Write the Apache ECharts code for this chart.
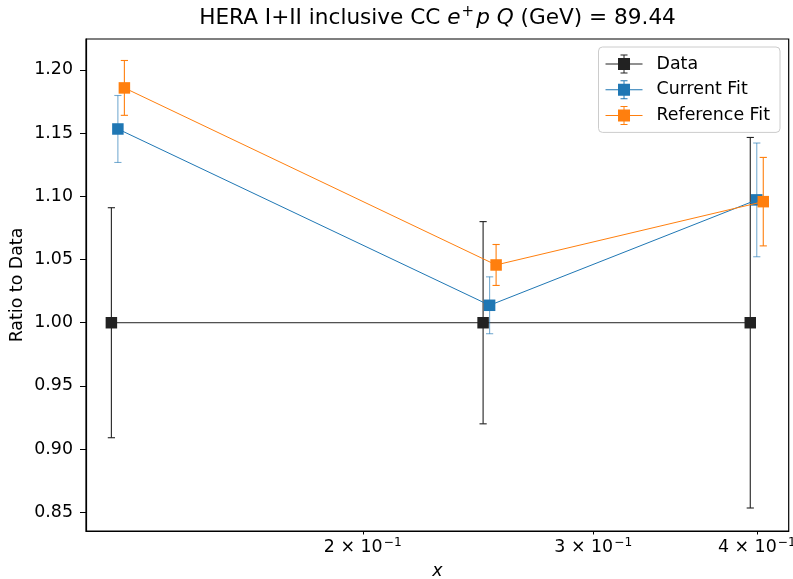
<!DOCTYPE html>
<html><head><meta charset="utf-8">
<script src="https://cdn.jsdelivr.net/npm/echarts@6/dist/echarts.min.js"></script>
<style>html,body{margin:0;padding:0;background:#fff}#c{width:793px;height:579px}</style>
</head><body><div id="c"></div>
<script>
// ---- data ----
const xValues = [0.13, 0.25, 0.40];
const dataRatio = [1.0, 1.0, 1.0];
const dataErr = [0.091, 0.080, 0.1466];
const currentRatio = [1.1533, 1.0138, 1.0972];
const currentErr = [0.0265, 0.0225, 0.045];
const referenceRatio = [1.1858, 1.0457, 1.0958];
const referenceErr = [0.0217, 0.0162, 0.035];
const xTickValues = [0.2, 0.3, 0.4];
const xTickMantissa = ['2', '3', '4'];
const xTickExponent = ['−1', '−1', '−1'];
const yTickValues = [0.85, 0.90, 0.95, 1.00, 1.05, 1.10, 1.15, 1.20];
const seriesNames = ['Data', 'Current Fit', 'Reference Fit'];

// ---- style ----
const FONT = "'DejaVu Sans', sans-serif";
const FS = 17.4;
const TFS = 21.6;
const COLORS = ['#222222', '#1f77b4', '#ff7f0e'];
const BAR_COLORS = ['#222222', 'rgba(31,119,180,0.6)', '#ff7f0e'];
const OFFSETS = [-6.5, 0, 6.5];
const MS = 11.5, CAP = 3.6;
const ICON = 'path://M0,0h0.05v0.05h-0.05z M45.95,19.95h0.05v0.05h-0.05z M0,9.5h37v1h-37z M12.5,4h12v12h-12z M18,0.5h1v19h-1z M15,0.5h7v1h-7z M15,18.5h7v1h-7z';

function makeRender(ys, offset, color, barColor) {
  return function (params, api) {
    const i = params.dataIndex;
    const x = api.value(0), y = api.value(1), e = api.value(2);
    const c = api.coord([x, y]);
    const cx = c[0] + offset, cy = c[1];
    const yt = api.coord([x, y + e])[1];
    const yb = api.coord([x, y - e])[1];
    const ch = [];
    if (i > 0) {
      const p = api.coord([xValues[i - 1], ys[i - 1]]);
      ch.push({ type: 'line', z2: 0, shape: { x1: p[0] + offset, y1: p[1], x2: cx, y2: cy }, style: { stroke: color, lineWidth: 1 } });
    }
    ch.push({ type: 'line', z2: 1, shape: { x1: cx, y1: yt, x2: cx, y2: yb }, style: { stroke: barColor, lineWidth: 1.1 } });
    ch.push({ type: 'line', z2: 1, shape: { x1: cx - CAP, y1: yt, x2: cx + CAP, y2: yt }, style: { stroke: barColor, lineWidth: 1.1 } });
    ch.push({ type: 'line', z2: 1, shape: { x1: cx - CAP, y1: yb, x2: cx + CAP, y2: yb }, style: { stroke: barColor, lineWidth: 1.1 } });
    ch.push({ type: 'rect', z2: 2, shape: { x: cx - MS / 2, y: cy - MS / 2, width: MS, height: MS }, style: { fill: color } });
    return { type: 'group', children: ch };
  };
}

const allY = [dataRatio, currentRatio, referenceRatio];
const allE = [dataErr, currentErr, referenceErr];
const series = seriesNames.map((name, s) => ({
  name: name,
  type: 'custom',
  z: 2 + s,
  itemStyle: { color: COLORS[s] },
  encode: { x: 0, y: 1 },
  data: xValues.map((x, i) => [x, allY[s][i], allE[s][i]]),
  renderItem: makeRender(allY[s], OFFSETS[s], COLORS[s], BAR_COLORS[s])
}));

const chart = echarts.init(document.getElementById('c'), null, { renderer: 'canvas' });
chart.setOption({
  animation: false,
  backgroundColor: '#fff',
  title: {
    text: 'HERA I+II inclusive CC {i|e}{sup|+}{i|p} {i|Q} (GeV) = 89.44',
    left: 437.5, top: 5, textAlign: 'center', padding: 0,
    textStyle: {
      fontFamily: FONT, fontSize: TFS, fontWeight: 'normal', color: '#000',
      rich: {
        i: { fontFamily: FONT, fontSize: TFS, fontStyle: 'italic', color: '#000' },
        sup: { fontFamily: FONT, fontSize: 15, color: '#000', padding: [0, 2, 11, 1] }
      }
    }
  },
  legend: {
    data: seriesNames.map(n => ({ name: n, icon: ICON })),
    orient: 'vertical', right: 13, top: 47,
    itemWidth: 46, itemHeight: 20, itemGap: 5.7,
    padding: [7, 10, 7, 7],
    borderColor: '#cccccc', borderWidth: 1, borderRadius: 4,
    backgroundColor: 'rgba(255,255,255,0.8)',
    selectedMode: false,
    itemStyle: { borderWidth: 0 },
    textStyle: { fontFamily: FONT, fontSize: FS, color: '#000' }
  },
  grid: {
    left: 86, right: 4.3, top: 39, bottom: 48,
    show: true, borderColor: '#000', borderWidth: 1.2,
    containLabel: false, outerBoundsMode: 'none'
  },
  xAxis: {
    type: 'log', logBase: 10, min: 0.12291, max: 0.42311,
    axisLine: { show: true, lineStyle: { color: '#000', width: 1.2 } },
    axisTick: { show: true, customValues: xTickValues, length: 3.5, lineStyle: { color: '#000', width: 1 } },
    minorTick: { show: false },
    splitLine: { show: false },
    axisLabel: {
      customValues: xTickValues, margin: 6,
      fontFamily: FONT, fontSize: FS, color: '#000',
      rich: { s: { fontFamily: FONT, fontSize: 12.2, color: '#000', padding: [0, 0, 9, 1] } },
      formatter: function (v) {
        let best = 0;
        for (let k = 1; k < xTickValues.length; k++) if (Math.abs(xTickValues[k] - v) < Math.abs(xTickValues[best] - v)) best = k;
        return xTickMantissa[best] + ' × 10{s|' + xTickExponent[best] + '}';
      }
    },
    name: 'x', nameLocation: 'middle', nameGap: 32, nameMoveOverlap: false,
    nameTextStyle: { fontFamily: FONT, fontSize: FS, fontStyle: 'italic', color: '#000' }
  },
  yAxis: {
    type: 'value', min: 0.8352, max: 1.2245,
    axisLine: { show: true, lineStyle: { color: '#000', width: 1.2 } },
    axisTick: { show: true, customValues: yTickValues, length: 6, lineStyle: { color: '#000', width: 1 } },
    splitLine: { show: false },
    axisLabel: {
      customValues: yTickValues, margin: 13,
      fontFamily: FONT, fontSize: FS, color: '#000',
      formatter: v => Number(v).toFixed(2)
    },
    name: 'Ratio to Data', nameLocation: 'middle', nameGap: 60, nameRotate: 90, nameMoveOverlap: false,
    nameTextStyle: { fontFamily: FONT, fontSize: FS, color: '#000' }
  },
  series: series
});
</script></body></html>
